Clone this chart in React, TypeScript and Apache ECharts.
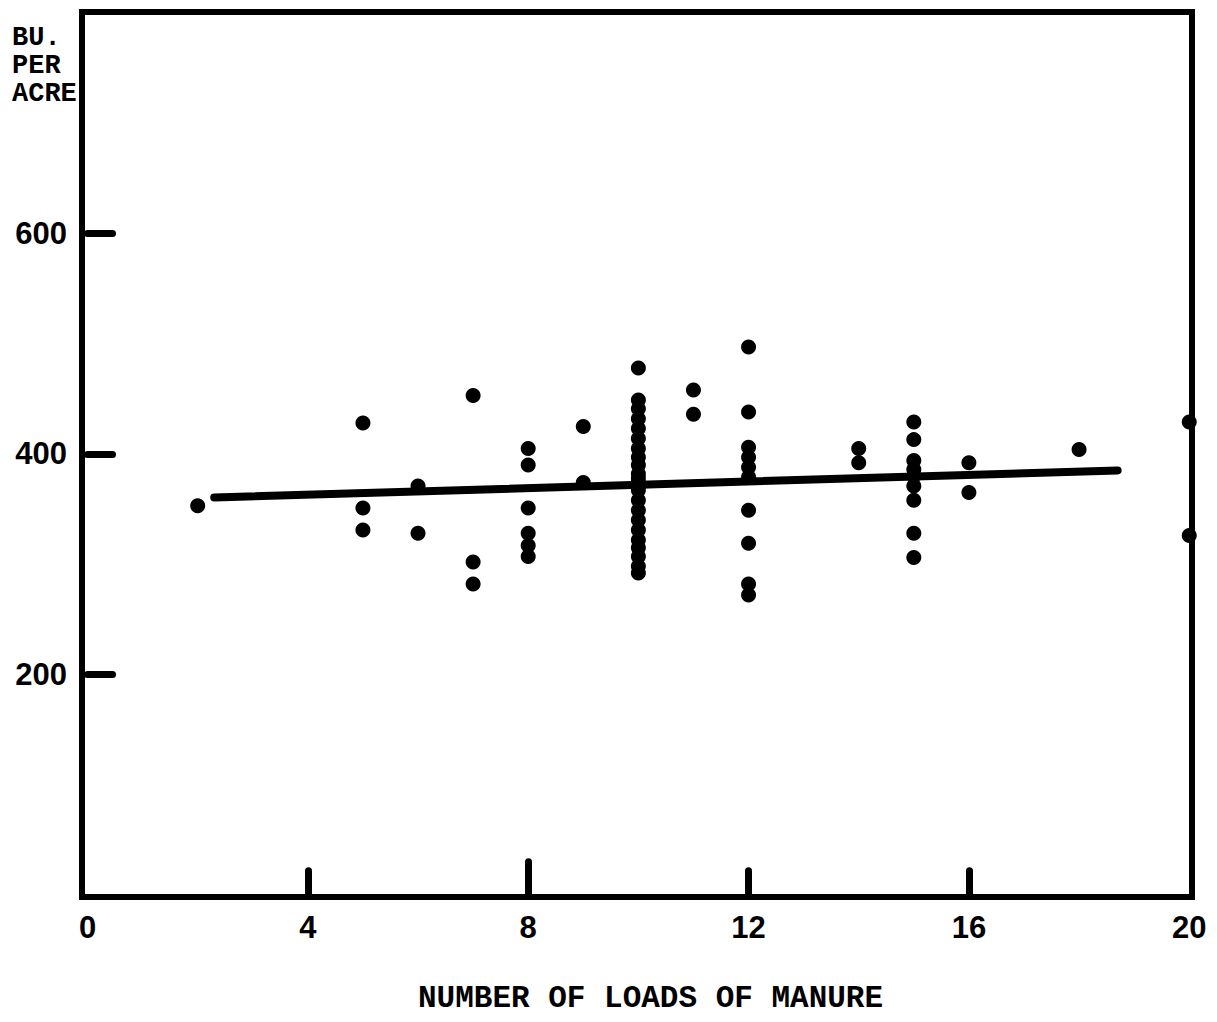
import React, { useEffect, useRef } from "react";
import * as echarts from "echarts";

// Number of loads of manure (x) vs bushels per acre (y), one list per x value
const col2 = [353];
const col5 = [428, 351, 331];
const col6 = [371, 328];
const col7 = [453, 302, 282];
const col8 = [405, 390, 351, 328, 317, 307];
const col9 = [425, 374];
const col10 = [478, 449, 441, 432, 423, 414, 405, 397, 390, 382, 378, 374, 371, 367, 358, 349, 340, 331, 322, 315, 307, 298, 292];
const col11 = [458, 436];
const col12 = [497, 438, 406, 397, 388, 379, 349, 319, 282, 272];
const col14 = [405, 392];
const col15 = [429, 413, 394, 386, 380, 371, 358, 328, 306];
const col16 = [392, 365];
const col18 = [404];
const col20 = [429, 326];

const columns: [number, number[]][] = [
  [2, col2], [5, col5], [6, col6], [7, col7], [8, col8], [9, col9], [10, col10],
  [11, col11], [12, col12], [14, col14], [15, col15], [16, col16], [18, col18], [20, col20],
];

// Regression line end points
const lineX = [2.3, 18.7];
const lineY = [360.5, 385];

const xLabels = [0, 4, 8, 12, 16, 20];
const xTicks = [4, 8, 12, 16];
const yLabels = [200, 400, 600];

const xTitle = "NUMBER OF LOADS OF MANURE";
const yTitle = "BU.\nPER\nACRE";

export default function App() {
  const ref = useRef<HTMLDivElement>(null);
  useEffect(() => {
    if (!ref.current) return;
    const chart = echarts.init(ref.current, null, { renderer: "svg" });
    const scatter: number[][] = [];
    columns.forEach(([x, ys]) => ys.forEach((y) => scatter.push([x, y])));
    const labelFont = {
      fontFamily: "Liberation Sans",
      fontWeight: "bold" as const,
      fontSize: 31,
      color: "#000",
    };
    chart.setOption({
      animation: false,
      backgroundColor: "#fff",
      grid: {
        show: true,
        left: 82,
        top: 12,
        width: 1110,
        height: 885,
        borderColor: "#000",
        borderWidth: 6,
        containLabel: false,
      },
      xAxis: {
        type: "value",
        min: -0.1,
        max: 20.05,
        splitLine: { show: false },
        axisLine: { show: false },
        axisTick: {
          show: true,
          inside: true,
          length: 24,
          customValues: xTicks,
          lineStyle: { color: "#000", width: 7, cap: "round" },
        },
        axisLabel: { customValues: xLabels, margin: 15, ...labelFont },
      },
      yAxis: {
        type: "value",
        min: -2,
        max: 801,
        splitLine: { show: false },
        axisLine: { show: false },
        axisTick: {
          show: true,
          inside: true,
          length: 25,
          customValues: yLabels,
          lineStyle: { color: "#000", width: 7, cap: "round" },
        },
        axisLabel: { customValues: yLabels, margin: 15, ...labelFont },
      },
      graphic: [
        {
          type: "text",
          left: 12,
          top: 24,
          style: {
            text: yTitle,
            fontFamily: "Liberation Mono",
            fontWeight: "bold",
            fontSize: 27,
            lineHeight: 28,
            fill: "#000",
          },
        },
        {
          type: "text",
          left: 418,
          top: 983,
          style: {
            text: xTitle,
            fontFamily: "Liberation Mono",
            fontWeight: "bold",
            fontSize: 31,
            fill: "#000",
          },
        },
      ],
      series: [
        {
          type: "line",
          data: lineX.map((x, i) => [x, lineY[i]]),
          symbol: "none",
          lineStyle: { color: "#000", width: 8, cap: "round" },
          markLine: {
            silent: true,
            symbol: "none",
            label: { show: false },
            lineStyle: { color: "#000", width: 7, type: "solid", cap: "round" },
            data: [[{ coord: [8, 0] }, { coord: [8, 30] }]],
          },
          z: 3,
        },
        {
          type: "scatter",
          data: scatter,
          symbol: "circle",
          symbolSize: 15,
          itemStyle: { color: "#000", opacity: 1 },
          z: 4,
        },
      ],
    });
    return () => chart.dispose();
  }, []);
  return (
    <div
      ref={ref}
      style={{ position: "fixed", left: 0, top: 0, width: 1217, height: 1022 }}
    />
  );
}
